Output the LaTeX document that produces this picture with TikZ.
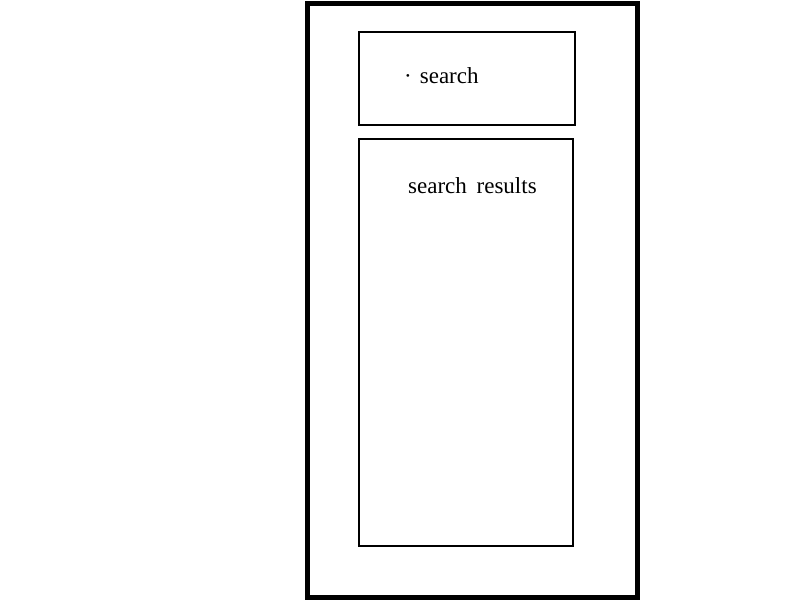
\documentclass[tikz,border=0pt]{standalone}
\usepackage{fontspec}
\setmainfont{Liberation Serif}
\begin{document}
\begin{tikzpicture}[x=1pt,y=-1pt,
  frame/.style={draw=black,line width=5pt},
  panel/.style={draw=black,line width=2.6pt},
  label/.style={font=\fontsize{23}{27}\selectfont,inner sep=0pt,anchor=base west}]
\useasboundingbox (0,0) rectangle (800,600);
\draw[frame] (307,3) rectangle (637,597);
\draw[panel] (359,32) rectangle (575,125);
\draw[panel] (359,139) rectangle (573,546);
\node[label] (s) at (404,83) {·\hspace{8pt}search};
\node[label] (r) at (408,193) {search\hspace{4pt} results};
\end{tikzpicture}
\end{document}
